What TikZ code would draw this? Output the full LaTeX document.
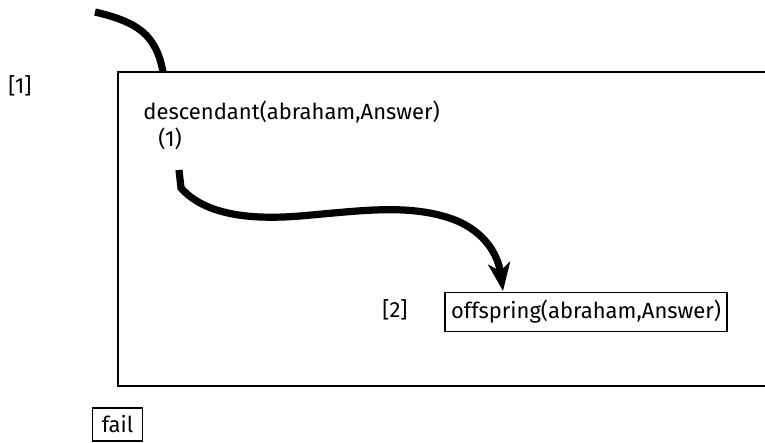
\documentclass[tikz,border=0pt]{standalone}
\usepackage{fontspec}
\setmainfont{Fira Sans}
\usetikzlibrary{arrows.meta}
\begin{document}
\begin{tikzpicture}[
    x=0.5pt, y=-0.5pt,
    every node/.style={font=\fontsize{11}{13}\selectfont, inner sep=0pt},
    goalbox/.style={draw, line width=0.8pt, inner xsep=3pt, inner ysep=4pt},
    flow/.style={line width=3.6pt},
    flowtip/.style={flow, -{Stealth[length=14pt,width=11pt,inset=4pt]}}]
    \useasboundingbox (0,0) rectangle (765,443);
    % Kasten der Anfrage, rechts offen.
    \draw[line width=1pt] (765,72) -- (118,72) -- (118,386) -- (765,386);

    \node (one) at (20,86) {[1]};
    \node[anchor=west] (goal) at (143,112) {descendant(abraham,Answer)};
    \node (clause) at (170,139) {(1)};
    \node (two) at (395,310) {[2]};
    \node[goalbox] (offspring) at (586,312) {offspring(abraham,Answer)};
    \node[goalbox, minimum width=25pt, minimum height=16pt] (fail) at (117.5,424.5) {fail};

    \coordinate (start) at (95,12);
    \coordinate (entry) at (163,72);
    \coordinate (leave) at (179,170);
    \coordinate (arrive) at (503,291);

    \draw[flow] (start) .. controls (137,22) and (156,34) .. (entry);
    \draw[flowtip] (leave) -- (181,188)
        .. controls (205,215) and (250,220) .. (300,216)
        .. controls (360,211) and (410,203) .. (455,220)
        .. controls (485,232) and (498,255) .. (arrive);
\end{tikzpicture}
\end{document}
